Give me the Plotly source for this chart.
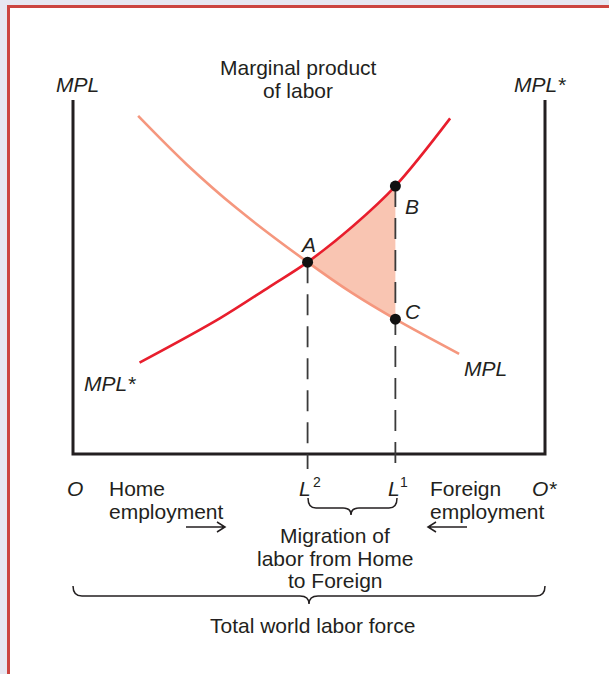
import plotly.graph_objects as go

# ---------------- data (x: world labor O=0 .. O*=10, y: marginal product) ----------------
mpl_x = [1.38, 2.41, 3.47, 4.97, 5.91, 6.83, 8.18]
mpl_y = [9.55, 8.18, 6.94, 5.42, 4.55, 3.81, 2.83]
mpl_star_x = [1.41, 3.11, 4.17, 4.97, 5.94, 6.83, 7.99]
mpl_star_y = [2.58, 3.83, 4.73, 5.42, 6.45, 7.57, 9.48]

point_names = ["A", "B", "C"]
point_x = [4.97, 6.83, 6.83]
point_y = [5.42, 7.57, 3.81]

L2, L1 = 4.97, 6.83
axis_x = [0, 0, 10, 10]
axis_y = [10, 0, 0, 10]

# ---------------- pixel frame helpers ----------------
W, H = 609, 674
OX, OY = 73, 454          # pixel of data origin
SX, SY = 47.2, 35.4       # px per data unit


def X(px):
    return (px - OX) / SX


def Y(py):
    return (OY - py) / SY


INK = "#231f20"
FONT = "Liberation Sans, Arial, Helvetica, sans-serif"
FS = 21
PAGE = "#e7e7f1"

fig = go.Figure()

# shaded gain region between A, B, C
fig.add_trace(go.Scatter(x=mpl_star_x[3:6], y=mpl_star_y[3:6], mode="lines",
                         line=dict(width=0, shape="spline"), hoverinfo="skip",
                         showlegend=False))
fig.add_trace(go.Scatter(x=mpl_x[3:6], y=mpl_y[3:6], mode="lines",
                         line=dict(width=0, shape="spline"), fill="tonexty",
                         fillcolor="#f9c5b2", hoverinfo="skip", showlegend=False))

# axes box
fig.add_trace(go.Scatter(x=axis_x, y=axis_y, mode="lines",
                         line=dict(color=INK, width=3), showlegend=False,
                         hoverinfo="skip"))

# curves
fig.add_trace(go.Scatter(x=mpl_x, y=mpl_y, mode="lines",
                         line=dict(color="#f5977e", width=2.6, shape="spline"),
                         showlegend=False, name="MPL"))
fig.add_trace(go.Scatter(x=mpl_star_x, y=mpl_star_y, mode="lines",
                         line=dict(color="#e81e2d", width=2.6, shape="spline"),
                         showlegend=False, name="MPL*"))

# dashed drop lines
for lx, top in [(L2, point_y[0]), (L1, point_y[1])]:
    fig.add_trace(go.Scatter(x=[lx, lx], y=[top, Y(469)], mode="lines",
                             line=dict(color="#3a3a3a", width=1.8, dash="21px,11px"),
                             showlegend=False, hoverinfo="skip"))

# points
fig.add_trace(go.Scatter(x=point_x, y=point_y, mode="markers",
                         marker=dict(color="#111111", size=11),
                         showlegend=False, name="points", hoverinfo="x+y"))

annotations = []


def ann(text, px, py, xanchor="center", size=FS):
    annotations.append(dict(text=text, x=X(px), y=Y(py), xref="x", yref="y",
                            showarrow=False, xanchor=xanchor, yanchor="middle",
                            font=dict(family=FONT, size=size, color=INK)))


ann("Marginal product", 298, 67)
ann("of labor", 298, 90)
ann("<i>MPL</i>", 77, 84)
ann("<i>MPL*</i>", 540, 84)
ann("<i>A</i>", 307.5, 244)
ann("<i>B</i>", 412, 206)
ann("<i>C</i>", 413, 311)
ann("<i>MPL</i>", 485, 368)
ann("<i>MPL*</i>", 110, 383)

ann("<i>O</i>", 74.5, 488)
ann("Home", 107, 488, xanchor="left")
ann("employment", 107, 511, xanchor="left")
ann("<i>L</i>", 305, 488)
ann("2", 316.5, 482, size=14)
ann("<i>L</i>", 394, 488)
ann("1", 404, 482, size=14)
ann("Foreign", 428, 488, xanchor="left")
ann("employment", 428, 511, xanchor="left")
ann("<i>O*</i>", 544, 488)

ann("Migration of", 335, 535)
ann("labor from Home", 335, 558)
ann("to Foreign", 335, 580)
ann("Total world labor force", 312, 625)

shapes = []


def P(px, py):
    return f"{X(px):.4f},{Y(py):.4f}"


def brace(x1, x2, xc, y0, y1, y2, r=9):
    path = (f"M{P(x1, y0)} Q{P(x1, y1)} {P(x1 + r, y1)} L{P(xc - r, y1)} "
            f"Q{P(xc, y1)} {P(xc, y2)} Q{P(xc, y1)} {P(xc + r, y1)} "
            f"L{P(x2 - r, y1)} Q{P(x2, y1)} {P(x2, y0)}")
    shapes.append(dict(type="path", path=path, xref="x", yref="y",
                       line=dict(color=INK, width=1.5)))


brace(308, 397, 351, 498, 508, 515, r=8)
brace(73, 545, 309, 586, 596, 604, r=9)


def arrow(x1, x2, y, head=8, half=5):
    d = 1 if x2 > x1 else -1
    path = (f"M{P(x1, y)} L{P(x2, y)} M{P(x2 - d * head, y - half)} "
            f"L{P(x2, y)} L{P(x2 - d * head, y + half)}")
    shapes.append(dict(type="path", path=path, xref="x", yref="y",
                       line=dict(color=INK, width=1.5)))


arrow(186, 225, 527)
arrow(467, 428, 527)

# frame: lavender page, red border, white panel
shapes.insert(0, dict(type="rect", xref="paper", yref="paper",
                      x0=8.5 / W, y0=1 - 6.5 / H, x1=1.2, y1=-0.2,
                      line=dict(color="#cc4540", width=3), fillcolor="white",
                      layer="below"))

fig.update_layout(
    width=W, height=H, autosize=False,
    margin=dict(l=0, r=0, t=0, b=0, pad=0),
    paper_bgcolor=PAGE, plot_bgcolor="rgba(0,0,0,0)",
    xaxis=dict(range=[X(0), X(W)], visible=False, fixedrange=True),
    yaxis=dict(range=[Y(H), Y(0)], visible=False, fixedrange=True),
    annotations=annotations, shapes=shapes, showlegend=False,
)

fig.write_html(
    "out.html",
    config={"displayModeBar": False},
    post_script=("document.body.style.margin='0px';"
                 "document.body.style.overflow='hidden';"
                 f"document.body.style.background='{PAGE}';"),
)
